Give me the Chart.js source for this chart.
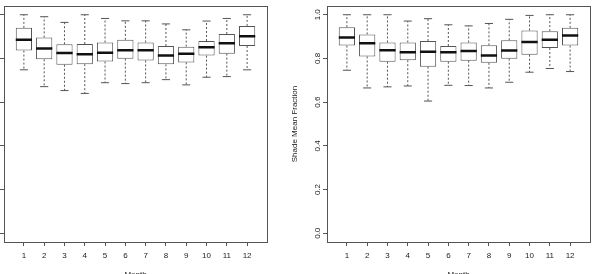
<!DOCTYPE html>
<html>
<head>
<meta charset="utf-8">
<script src="https://cdn.jsdelivr.net/npm/chart.js@4"></script>
<style>
  html, body { margin: 0; padding: 0; background: #fff; }
  body { width: 594px; height: 274px; overflow: hidden; position: relative; }
  canvas { position: absolute; top: 0; }
  #left { left: -36px; }
  #right { left: 287px; }
</style>
</head>
<body>
<canvas id="left" width="307" height="274"></canvas>
<canvas id="right" width="307" height="274"></canvas>
<script>
// ---- data ----
const months = [1, 2, 3, 4, 5, 6, 7, 8, 9, 10, 11, 12];
const yTicks = [0, 0.2, 0.4, 0.6, 0.8, 1.0];

// left panel
const leftMax = [1.000, 0.991, 0.965, 1.000, 0.983, 0.972, 0.972, 0.958, 0.931, 0.971, 0.983, 1.000];
const leftQ3  = [0.940, 0.896, 0.865, 0.866, 0.873, 0.885, 0.873, 0.857, 0.854, 0.880, 0.912, 0.949];
const leftMed = [0.885, 0.846, 0.825, 0.819, 0.826, 0.838, 0.837, 0.814, 0.822, 0.851, 0.869, 0.902];
const leftQ1  = [0.836, 0.796, 0.771, 0.774, 0.786, 0.799, 0.791, 0.773, 0.782, 0.813, 0.822, 0.857];
const leftMin = [0.748, 0.671, 0.653, 0.640, 0.689, 0.685, 0.689, 0.703, 0.679, 0.714, 0.717, 0.748];

// right panel
const rightMax = [1.000, 1.000, 1.000, 0.971, 0.982, 0.954, 0.949, 0.960, 0.979, 0.997, 1.000, 1.000];
const rightQ3  = [0.943, 0.910, 0.873, 0.873, 0.880, 0.857, 0.873, 0.860, 0.883, 0.928, 0.925, 0.940];
const rightMed = [0.896, 0.869, 0.838, 0.828, 0.831, 0.828, 0.834, 0.814, 0.836, 0.875, 0.885, 0.905];
const rightQ1  = [0.859, 0.809, 0.785, 0.792, 0.762, 0.785, 0.790, 0.780, 0.799, 0.817, 0.848, 0.859];
const rightMin = [0.746, 0.665, 0.670, 0.674, 0.605, 0.677, 0.676, 0.665, 0.691, 0.737, 0.754, 0.740];

// ---- styles ----
const FONT = { family: "'Liberation Sans', Arial, sans-serif", size: 8 };
const LINE = '#555';
const TEXT = '#222';

const framePlugin = {
  id: 'frame',
  afterDraw(chart) {
    const { ctx, chartArea: a } = chart;
    ctx.save();
    ctx.strokeStyle = LINE;
    ctx.lineWidth = 1;
    ctx.strokeRect(Math.round(a.left) + 0.5, Math.round(a.top) + 0.5,
                   Math.round(a.right - a.left), Math.round(a.bottom - a.top));
    ctx.restore();
  }
};

function buildDatasets(mx, q3, med, q1, mn) {
  const whisk = [], caps = [], meds = [];
  months.forEach((m, i) => {
    whisk.push({ x: m, y: q3[i] }, { x: m, y: mx[i] }, { x: m, y: null });
    whisk.push({ x: m, y: q1[i] }, { x: m, y: mn[i] }, { x: m, y: null });
    caps.push({ x: m - 0.2, y: mx[i] }, { x: m + 0.2, y: mx[i] }, { x: m, y: null });
    caps.push({ x: m - 0.2, y: mn[i] }, { x: m + 0.2, y: mn[i] }, { x: m, y: null });
    meds.push({ x: m - 0.4, y: med[i] }, { x: m + 0.4, y: med[i] }, { x: m, y: null });
  });
  return [
    { type: 'line', data: meds, borderColor: '#111', borderWidth: 2.5,
      pointRadius: 0, spanGaps: false, fill: false },
    { type: 'line', data: caps, borderColor: LINE, borderWidth: 1,
      pointRadius: 0, spanGaps: false, fill: false },
    { type: 'bar', data: months.map((m, i) => ({ x: m, y: [q1[i], q3[i]] })),
      backgroundColor: '#fff', borderColor: LINE, borderWidth: 1, borderSkipped: false,
      barPercentage: 0.8, categoryPercentage: 1.0 },
    { type: 'line', data: whisk, borderColor: LINE, borderWidth: 1, borderDash: [2, 2],
      pointRadius: 0, spanGaps: false, fill: false }
  ];
}

function makeChart(id, sets, showY, yTitle) {
  new Chart(document.getElementById(id), {
    type: 'bar',
    data: { datasets: sets },
    plugins: [framePlugin],
    options: {
      responsive: false,
      animation: false,
      devicePixelRatio: 1,
      layout: { padding: { top: 6, right: 4, left: 0, bottom: 0 } },
      plugins: { legend: { display: false }, tooltip: { enabled: false } },
      scales: {
        x: {
          type: 'linear', min: 0.02, max: 12.98, offset: false,
          afterBuildTicks: s => { s.ticks = months.map(v => ({ value: v })); },
          afterFit: s => { s.height = 32; },
          border: { display: false },
          grid: { drawOnChartArea: false, drawTicks: true, tickLength: 4, color: LINE, offset: false },
          ticks: { font: FONT, color: TEXT, padding: 5, maxRotation: 0, autoSkip: false,
                   callback: v => String(v) },
          title: { display: true, text: 'Month', font: FONT, color: TEXT,
                   padding: { top: 0, bottom: -5.2 } }
        },
        y: {
          type: 'linear', min: -0.04, max: 1.04,
          afterBuildTicks: s => { s.ticks = yTicks.map(v => ({ value: v })); },
          afterFit: s => { s.width = 40; },
          border: { display: false },
          grid: { drawOnChartArea: false, drawTicks: true, tickLength: 4, color: LINE },
          ticks: { display: showY, font: FONT, color: TEXT, padding: 0,
                   minRotation: 90, maxRotation: 90, crossAlign: 'center',
                   callback: v => v.toFixed(1) },
          title: { display: !!yTitle, text: yTitle || '', font: FONT, color: TEXT,
                   padding: { top: 3.2, bottom: 0 } }
        }
      }
    }
  });
}

makeChart('left', buildDatasets(leftMax, leftQ3, leftMed, leftQ1, leftMin), false, '');
makeChart('right', buildDatasets(rightMax, rightQ3, rightMed, rightQ1, rightMin), true, 'Shade Mean Fraction');
</script>
</body>
</html>
